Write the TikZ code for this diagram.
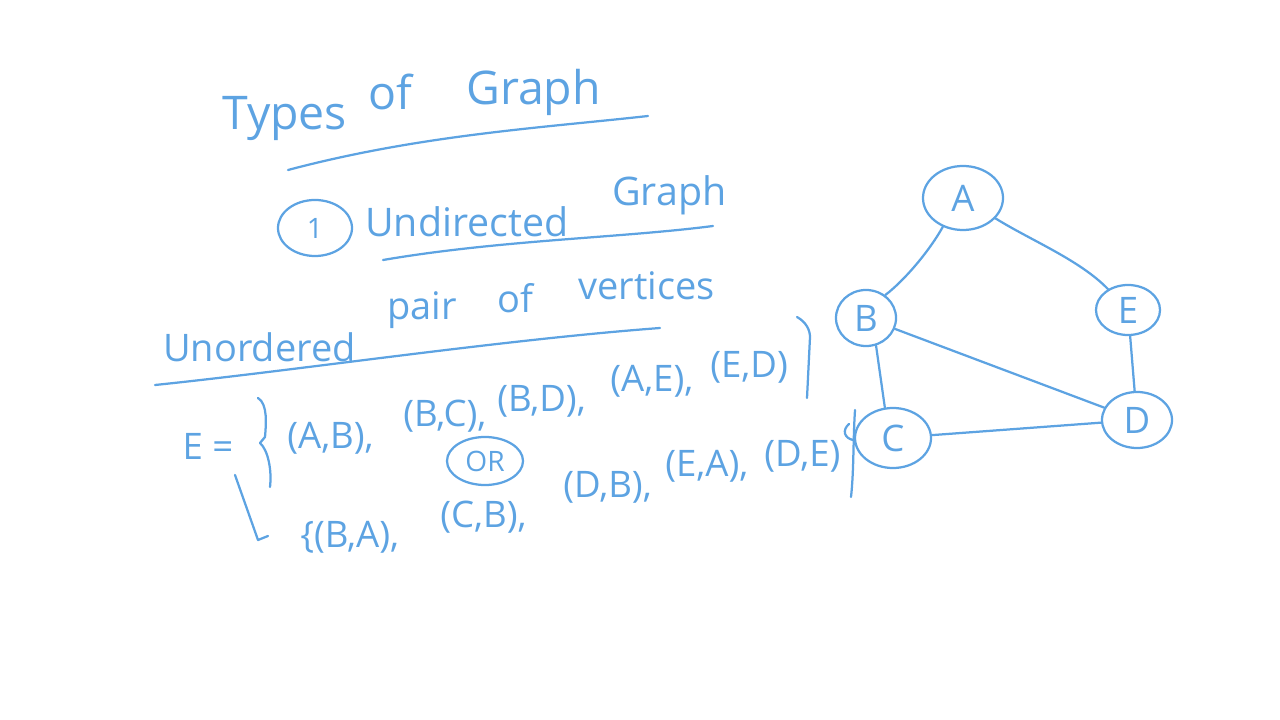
\documentclass[tikz,border=0pt]{standalone}
\usepackage{fontspec}
\setmainfont{Open Sans}
\usepackage{xcolor}
\usepackage{tikz}
\usetikzlibrary{shapes.geometric}
\definecolor{inkblue}{RGB}{93,163,226}

\tikzset{
  ink/.style={draw=inkblue, line width=1.6pt, line cap=round, line join=round},
  hand/.style={text=inkblue, inner sep=0pt, anchor=base west},
  ring/.style={ellipse, draw=inkblue, line width=1.6pt, text=inkblue, inner sep=0pt},
  vertex/.style={ring, font=\fontsize{26}{28}\selectfont},
}

\begin{document}
\begin{tikzpicture}[x=0.025cm, y=-0.025cm]
\useasboundingbox (0,0) rectangle (1280,720);

% Titolo
\node[hand, font=\fontsize{33}{35}\selectfont] (t1) at (222,130) {Types};
\node[hand, font=\fontsize{33}{35}\selectfont] (t2) at (368,110) {of};
\node[hand, font=\fontsize{33}{35}\selectfont] (t3) at (466,105) {Graph};
\draw[ink] (288,170) .. controls (420,135) and (540,128) .. (648,116);

% Tipo 1
\node[ring, minimum width=1.85cm, minimum height=1.4cm, font=\fontsize{20}{22}\selectfont] (uno) at (315,228) {1};
\node[hand, font=\fontsize{28}{30}\selectfont] (u1) at (365,237) {Undirected};
\node[hand, font=\fontsize{28}{30}\selectfont] (u2) at (612,206) {Graph};
\draw[ink] (383,260) .. controls (500,240) and (620,238) .. (713,226);

\node[hand, font=\fontsize{27}{29}\selectfont] (d1) at (163,362) {Unordered};
\node[hand, font=\fontsize{27}{29}\selectfont] (d2) at (387,320) {pair};
\node[hand, font=\fontsize{27}{29}\selectfont] (d3) at (497,313) {of};
\node[hand, font=\fontsize{27}{29}\selectfont] (d4) at (578,300) {vertices};
\draw[ink] (155,385) .. controls (300,370) and (500,340) .. (660,328);

% Insieme degli archi
\node[hand, anchor=center, font=\fontsize{26}{28}\selectfont] (eq) at (208,446) {E =};
\draw[ink] (258,398) .. controls (268,404) and (266,425) .. (265,437)
  -- (260,443) .. controls (268,450) and (272,470) .. (270,487);
\foreach \x/\y/\t [count=\i] in {287/448/{(A,B),}, 403/427/{(B,C),}, 497/411/{(B,D),}, 610/392/{(A,E),}, 710/378/{(E,D)}}
  \node[hand, font=\fontsize{26}{28}\selectfont] (r\i) at (\x,\y) {\t};
\draw[ink] (797,317) .. controls (806,322) and (810,330) .. (810,337) -- (807,398);

\node[ring, minimum width=1.9cm, minimum height=1.2cm, font=\fontsize{20}{22}\selectfont] (oppure) at (485,461) {OR};

\draw[ink] (235,475) -- (258,540) -- (268,536);
\foreach \x/\y/\t [count=\i] in {300/547/{\{(B,A),}, 440/527/{(C,B),}, 563/497/{(D,B),}, 665/476/{(E,A),}, 764/466/{(D,E)}}
  \node[hand, font=\fontsize{26}{28}\selectfont] (s\i) at (\x,\y) {\t};
\draw[ink] (849,424) .. controls (842,430) and (844,438) .. (853,440);
\draw[ink] (855,410) .. controls (853,440) and (854,470) .. (851,497);

% Grafo
\node[vertex, minimum width=2cm, minimum height=1.6cm] (A) at (963,198) {A};
\node[vertex, minimum width=1.5cm, minimum height=1.4cm] (B) at (866,318) {B};
\node[vertex, minimum width=1.6cm, minimum height=1.25cm] (E) at (1128,310) {E};
\node[vertex, minimum width=1.9cm, minimum height=1.5cm] (C) at (893,438) {C};
\node[vertex, minimum width=1.75cm, minimum height=1.4cm] (D) at (1137,420) {D};

\draw[ink] (A.235) .. controls (930,250) and (905,280) .. (B.50);
\draw[ink] (A) .. controls (1030,240) and (1080,260) .. (E);
\draw[ink] (B.-70) -- (C.105);
\draw[ink] (B) -- (D);
\draw[ink] (E) -- (D);
\draw[ink] (C) -- (D);
\end{tikzpicture}
\end{document}
